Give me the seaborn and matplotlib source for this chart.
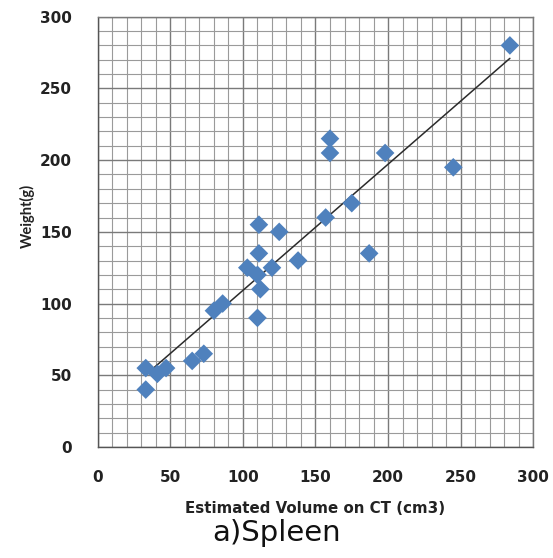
import numpy as np
import pandas as pd
import seaborn as sns
import matplotlib.pyplot as plt
from matplotlib.ticker import MultipleLocator

sns.set_style("white")
plt.rcParams["font.family"] = ["DejaVu Sans"]

# values
volume = [284, 160, 160, 198, 245, 175, 157, 111, 125, 187, 111, 138, 103,
          120, 110, 112, 86, 80, 110, 73, 65, 33, 47, 41, 33]
weight = [280, 215, 205, 205, 195, 170, 160, 155, 150, 135, 135, 130, 125,
          125, 120, 110, 100, 95, 90, 65, 60, 55, 55, 51, 40]
x_ticks = [0, 50, 100, 150, 200, 250, 300]
y_ticks = [0, 50, 100, 150, 200, 250, 300]

df = pd.DataFrame({"volume": volume, "weight": weight})

fig = plt.figure(figsize=(5.53, 5.58), dpi=100)
ax = fig.add_axes([0.177, 0.199, 0.787, 0.771])

ax.set_xlim(0, 300)
ax.set_ylim(0, 300)
ax.set_xticks(x_ticks)
ax.set_yticks(y_ticks)
ax.xaxis.set_minor_locator(MultipleLocator(10))
ax.yaxis.set_minor_locator(MultipleLocator(10))
ax.grid(which="major", color="#7a7a7a", linewidth=1.0)
ax.grid(which="minor", color="#9a9a9a", linewidth=0.8)
ax.set_axisbelow(True)

# trendline (linear fit over the data range)
sns.regplot(data=df, x="volume", y="weight", scatter=False, ci=None,
            color="#2b2b2b", line_kws={"linewidth": 1.1}, ax=ax)
sns.scatterplot(data=df, x="volume", y="weight", marker="D", s=90,
                color="#4f81bd", edgecolor="none", ax=ax, zorder=3)

for s in ax.spines.values():
    s.set_color("#7a7a7a")
    s.set_linewidth(1.0)
ax.spines["left"].set_color("#555555")
ax.spines["bottom"].set_color("#555555")

ax.tick_params(which="major", direction="out", length=5.5, width=1,
               color="#666666", labelsize=11, labelcolor="#222222")
ax.tick_params(axis="x", pad=11)
ax.tick_params(axis="y", pad=13)
ax.tick_params(which="minor", length=0)
for lab in ax.get_xticklabels() + ax.get_yticklabels():
    lab.set_fontweight("bold")

ax.set_xlabel("Estimated Volume on CT (cm3)", fontsize=10.8, fontweight="bold",
              color="#222222")
ax.xaxis.set_label_coords(0.5, -0.142)
ax.xaxis.label.set_va("center")
ax.set_ylabel("Weight(g)", fontsize=10.5, fontweight="bold", color="#222222",
              family=["Lato", "DejaVu Sans"])
ax.yaxis.set_label_coords(-0.163, 0.537)
ax.yaxis.label.set_va("center")

fig.text(0.501, 1 - 541 / 558, "a)Spleen", fontsize=21, color="#111111",
         ha="center", va="baseline")

fig.savefig("out.png", dpi=100)
